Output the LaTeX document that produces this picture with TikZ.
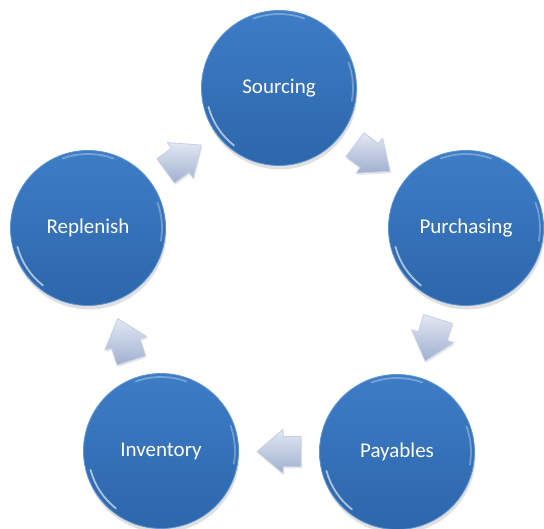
\documentclass[tikz,border=0pt]{standalone}
\usepackage{fontspec}
\setmainfont{Carlito}
\usetikzlibrary{calc,shadows}
\definecolor{ballTop}{HTML}{3D7DC6}
\definecolor{ballBot}{HTML}{2D66AB}
\definecolor{ballEdge}{HTML}{5F96D2}
\definecolor{arrLight}{HTML}{E2E8F3}
\definecolor{arrDark}{HTML}{9FB0CF}
\definecolor{arrEdge}{HTML}{C4CFE4}
\tikzset{
  stage/.style={circle, minimum size=155pt, inner sep=0pt,
    top color=ballTop, bottom color=ballBot, draw=ballEdge, line width=0.8pt,
    drop shadow={shadow xshift=1pt, shadow yshift=-4pt, opacity=0.2, fill=black!60},
    text=white, font=\fontsize{21}{24}\selectfont},
  blockarrow/.style={top color=arrLight, bottom color=arrDark, draw=arrEdge, line width=0.8pt,
    line join=round,
    drop shadow={shadow xshift=1pt, shadow yshift=-2pt, opacity=0.18, fill=black!50}},
  gleam/.style={white, opacity=0.6, line width=1.8pt, line cap=round}
}
\newcommand{\blockarrowpath}{(-22,-15) -- (-4,-15) -- (-4,-22) -- (22,0) -- (-4,22) -- (-4,15) -- (-22,15) -- cycle}
\begin{document}
\begin{tikzpicture}[x=1pt,y=1pt]
\useasboundingbox (0,0) rectangle (544,529);
\node[stage] (src) at (279,441) {Sourcing};
\node[stage] (pur) at (466,301) {Purchasing};
\node[stage] (pay) at (397,77) {Payables};
\node[stage] (inv) at (161,78) {Inventory};
\node[stage] (rep) at (88,301) {Replenish};
\foreach \n in {src,pur,pay,inv,rep}{
  \draw[gleam] ([shift={(195:73)}]\n.center) arc[start angle=195, end angle=232, radius=73];
  \draw[gleam, opacity=0.3] ([shift={(70:74)}]\n.center) arc[start angle=70, end angle=110, radius=74];
  \draw[gleam, opacity=0.3] ([shift={(-10:74)}]\n.center) arc[start angle=-10, end angle=20, radius=74];
}
\coordinate (m1) at ($(rep)!0.5!(src)$);
\coordinate (m2) at ($(src)!0.5!(pur)$);
\coordinate (m3) at ($(pur)!0.5!(pay)$);
\coordinate (m4) at ($(pay)!0.5!(inv)$);
\coordinate (m5) at ($(inv)!0.5!(rep)$);
\path[blockarrow, shift={(m1)}, rotate=36] \blockarrowpath;
\path[blockarrow, shift={(m2)}, rotate=-37] \blockarrowpath;
\path[blockarrow, shift={(m3)}, rotate=-107] \blockarrowpath;
\path[blockarrow, shift={(m4)}, rotate=180] \blockarrowpath;
\path[blockarrow, shift={(m5)}, rotate=108] \blockarrowpath;
\end{tikzpicture}
\end{document}
